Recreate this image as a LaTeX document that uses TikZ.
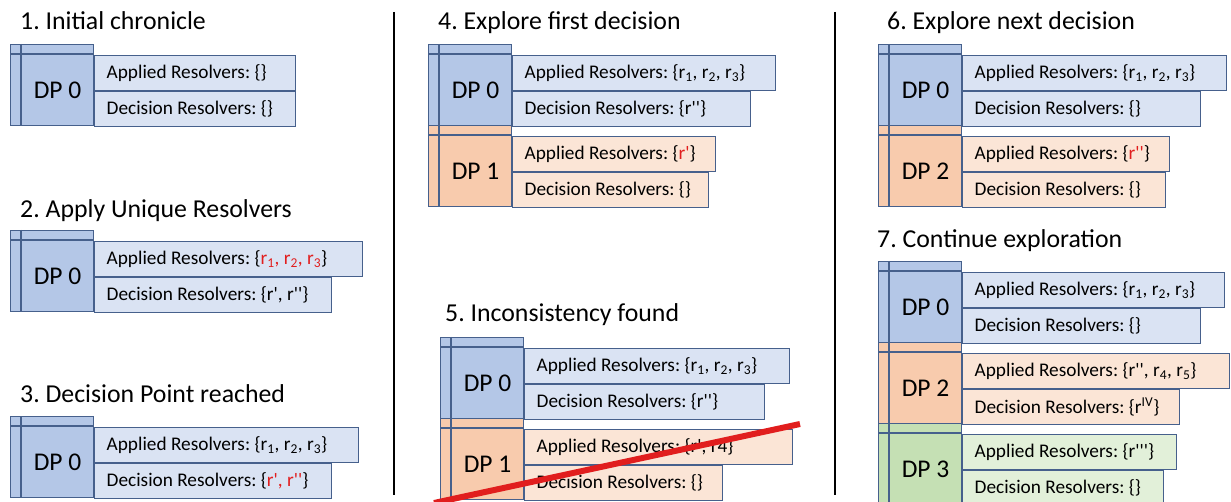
\documentclass[tikz,border=0pt]{standalone}
\usepackage{fontspec}
\setmainfont{Carlito}[Ligatures=TeXOff]
\usetikzlibrary{positioning}

\definecolor{dpedge}{RGB}{70,96,140}
\definecolor{dpblue}{RGB}{180,199,231}
\definecolor{dpbluelt}{RGB}{218,227,243}
\definecolor{dporange}{RGB}{248,203,173}
\definecolor{dporangelt}{RGB}{251,229,214}
\definecolor{dpgreen}{RGB}{197,224,180}
\definecolor{dpgreenlt}{RGB}{226,240,217}
\definecolor{hlred}{RGB}{225,30,30}

\newcommand{\rs}[1]{r\textsubscript{#1}}
\newcommand{\redtxt}[1]{\textcolor{hlred}{#1}}

% decision point: name, x, y, label, colour, applied, width, decision, width
\newcommand{\dpentry}[9]{%
    \node[dpblock, fill=#5] (#1) at (#2,#3) {};
    \draw[dpedge, line width=1.1pt] ([xshift=11pt]#1.north west) -- ([xshift=11pt]#1.south west);
    \draw[dpedge, line width=1.1pt] ([yshift=-10pt]#1.north west) -- ([yshift=-10pt]#1.north east);
    \node[dplabel] (#1t) at ([xshift=5.5pt,yshift=-5pt]#1.center) {#4};
    \pgfmathsetmacro\rowa{#7-24}
    \pgfmathsetmacro\rowb{#9-24}
    \node[dprow, fill=#5lt] (#1a) at ([yshift=-11pt]#1.north east) {\makebox[\rowa pt][l]{Applied Resolvers: \{#6\}}};
    \node[dprow, fill=#5lt] (#1d) at (#1a.south west) {\makebox[\rowb pt][l]{Decision Resolvers: \{#8\}}};
}

\frenchspacing

\begin{document}
\begin{tikzpicture}[x=1pt, y=-1pt,
    dpblock/.style={draw=dpedge, line width=1.1pt, anchor=north west, minimum width=83pt, minimum height=81pt, inner sep=0pt},
    dplabel/.style={inner sep=0pt, font=\fontsize{25.5}{30}\selectfont},
    dprow/.style={draw=dpedge, line width=1.1pt, anchor=north west, minimum height=35pt, inner xsep=12pt, inner ysep=0pt, font=\fontsize{19.3}{23}\selectfont},
    heading/.style={anchor=base west, inner sep=0pt, font=\fontsize{25.8}{30}\selectfont},
    divider/.style={line width=2.5pt},
    strike/.style={draw=hlred, line width=6pt}]
    \fill[white] (0,0) rectangle (1231,502);
    \useasboundingbox (0,0) rectangle (1231,502);

    % left column
    \node[heading] (t1) at (20,30) {1. Initial chronicle};
    \dpentry{aa}{10}{44}{DP 0}{dpblue}{}{201}{}{201}
    \node[heading] (t2) at (20,218) {2. Apply Unique Resolvers};
    \dpentry{ba}{10}{230}{DP 0}{dpblue}{\redtxt{\rs1, \rs2, \rs3}}{268}{r', r''}{237}
    \node[heading] (t3) at (20,402) {3. Decision Point reached};
    \dpentry{ca}{10}{416}{DP 0}{dpblue}{\rs1, \rs2, \rs3}{264}{\redtxt{r', r''}}{237}

    % middle column
    \node[heading] (t4) at (438,30) {4. Explore first decision};
    \dpentry{da}{428}{44}{DP 0}{dpblue}{\rs1, \rs2, \rs3}{263}{r''}{238}
    \dpentry{db}{428}{125}{DP 1}{dporange}{\redtxt{r'}}{203}{}{196}
    \node[heading] (t5) at (445,322) {5. Inconsistency found};
    \dpentry{ea}{440}{337}{DP 0}{dpblue}{\rs1, \rs2, \rs3}{265}{r''}{240}
    \dpentry{eb}{440}{418}{DP 1}{dporange}{r', r4}{268}{}{198}
    \coordinate (s1) at (434,503);
    \coordinate (s2) at (800,424);
    \draw[strike] (s1) -- (s2);

    % right column
    \node[heading] (t6) at (887,30) {6. Explore next decision};
    \dpentry{fa}{878}{44}{DP 0}{dpblue}{\rs1, \rs2, \rs3}{264}{}{238}
    \dpentry{fb}{878}{125}{DP 2}{dporange}{\redtxt{r''}}{207}{}{203}
    \node[heading] (t7) at (877,248) {7. Continue exploration};
    \dpentry{ga}{878}{261}{DP 0}{dpblue}{\rs1, \rs2, \rs3}{262}{}{238}
    \dpentry{gb}{878}{342}{DP 2}{dporange}{r'', \rs4, \rs5}{267}{r\textsuperscript{IV}}{217}
    \dpentry{gc}{878}{423}{DP 3}{dpgreen}{r'''}{214}{}{201}

    % column dividers
    \coordinate (v1t) at (394,12);
    \coordinate (v1b) at (394,495);
    \coordinate (v2t) at (835,12);
    \coordinate (v2b) at (835,495);
    \draw[divider] (v1t) -- (v1b);
    \draw[divider] (v2t) -- (v2b);
\end{tikzpicture}
\end{document}
